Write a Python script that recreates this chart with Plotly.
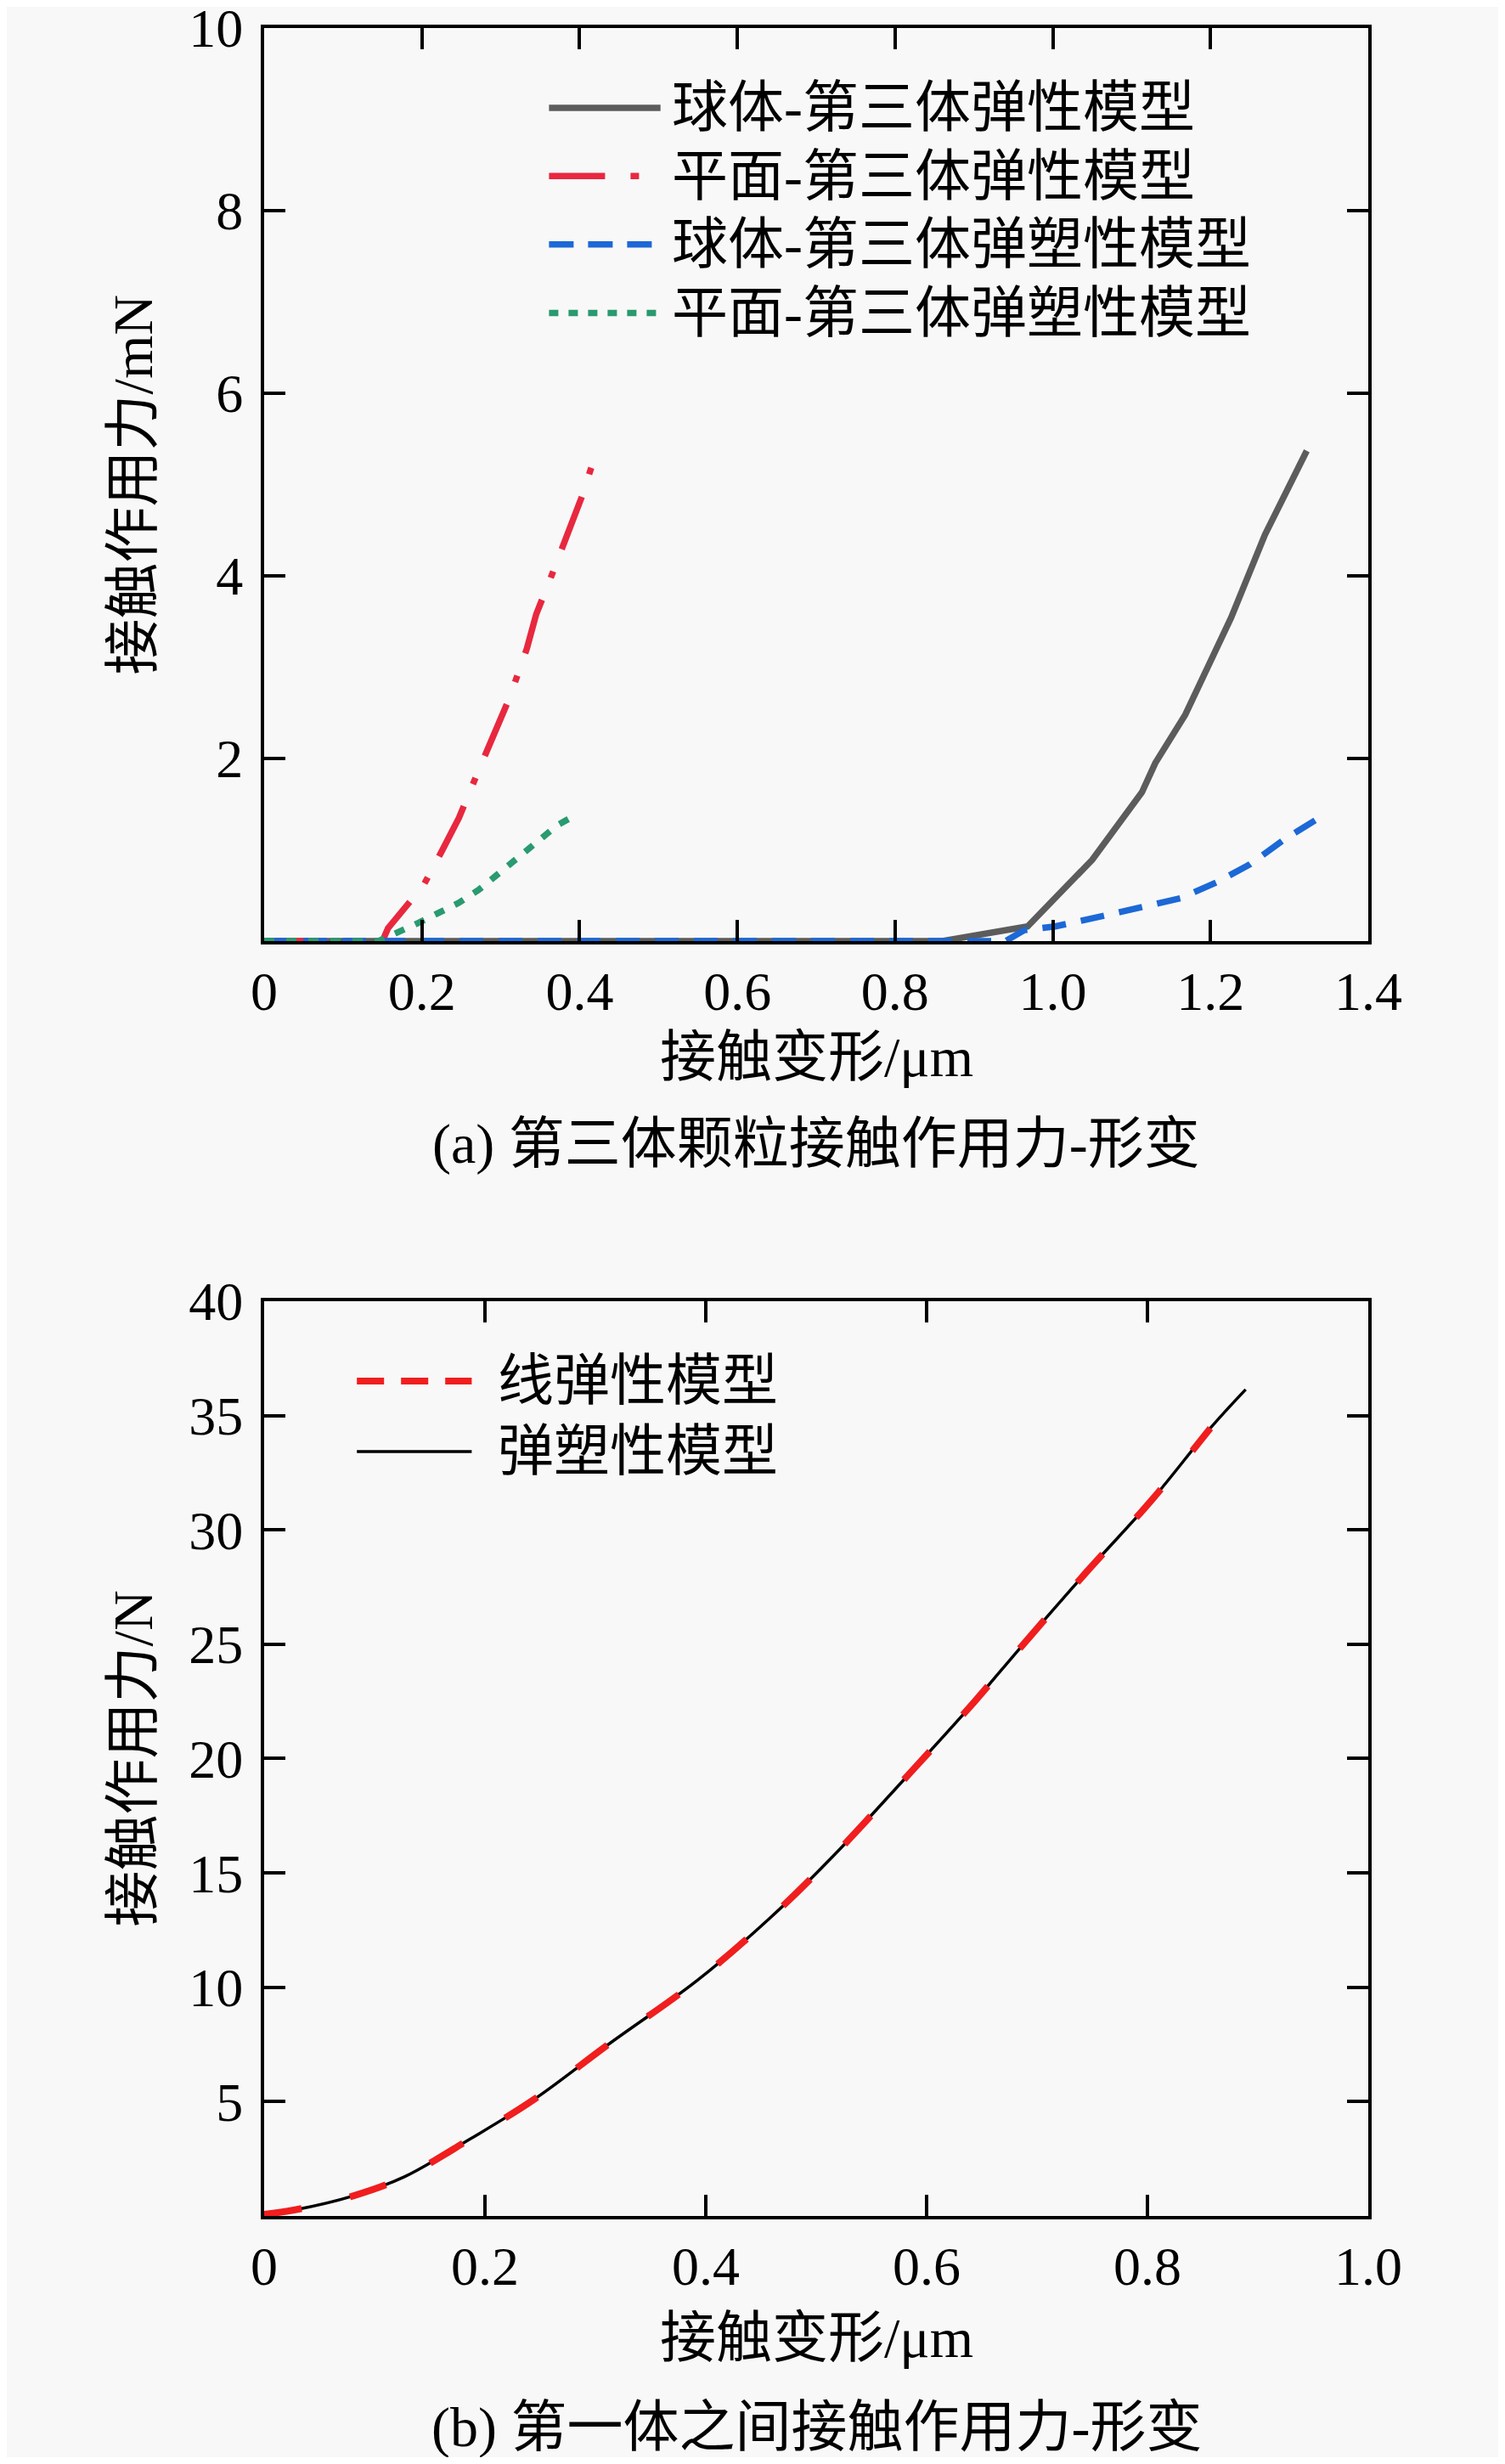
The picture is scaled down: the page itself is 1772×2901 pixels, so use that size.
import plotly.graph_objects as go

# (a) 第三体颗粒 — 接触作用力/mN 对 接触变形/μm
sphere_el_x = [0, 0.86, 0.968, 1.003, 1.050, 1.113, 1.130, 1.168, 1.226, 1.269, 1.322]
sphere_el_y = [0, 0, 0.16, 0.48, 0.89, 1.63, 1.95, 2.48, 3.54, 4.45, 5.37]

plane_el_x = [0, 0.150, 0.157, 0.202, 0.225, 0.247, 0.272, 0.2915, 0.311, 0.333, 0.345, 0.363, 0.385, 0.403, 0.4225]
plane_el_y = [0, 0, 0.14, 0.61, 0.98, 1.35, 1.87, 2.27, 2.66, 3.20, 3.58, 3.97, 4.49, 4.87, 5.39]

sphere_ep_x = [0, 0.940, 0.964, 1.003, 1.066, 1.117, 1.162, 1.207, 1.250, 1.293, 1.334]
sphere_ep_y = [0, 0, 0.12, 0.16, 0.28, 0.38, 0.47, 0.64, 0.84, 1.11, 1.33]

plane_ep_x = [0, 0.145, 0.196, 0.247, 0.272, 0.2915, 0.313, 0.331, 0.3525, 0.372, 0.397]
plane_ep_y = [0, 0, 0.20, 0.42, 0.56, 0.70, 0.86, 0.98, 1.13, 1.27, 1.39]

# (b) 第一体之间 — 接触作用力/N
body_x = [0, 0.027, 0.080, 0.127, 0.186, 0.2446, 0.312, 0.392, 0.4566, 0.515, 0.580, 0.639, 0.686, 0.745, 0.804, 0.857, 0.889]
plastic_y = [0.07, 0.26, 0.87, 1.71, 3.35, 5.10, 7.51, 10.29, 12.96, 15.72, 19.11, 22.25, 24.91, 28.17, 31.31, 34.45, 36.14]
linear_x = body_x[:16]
linear_y = plastic_y[:16]

names_a = ['球体-第三体弹性模型', '平面-第三体弹性模型', '球体-第三体弹塑性模型', '平面-第三体弹塑性模型']
names_b = ['线弹性模型', '弹塑性模型']

xticks_a = [0, 0.2, 0.4, 0.6, 0.8, 1.0, 1.2, 1.4]
xtext_a = ['0', '0.2', '0.4', '0.6', '0.8', '1.0', '1.2', '1.4']
yticks_a = [2, 4, 6, 8, 10]
xticks_b = [0, 0.2, 0.4, 0.6, 0.8, 1.0]
xtext_b = ['0', '0.2', '0.4', '0.6', '0.8', '1.0']
yticks_b = [5, 10, 15, 20, 25, 30, 35, 40]

FONT = 'Liberation Serif, Noto Sans CJK SC'
GRAY, RED, BLUE, GREEN = '#5c5c5c', '#e8283f', '#1c68d6', '#2a9a70'
BRED = '#f01e1e'

fig = go.Figure()

# 上图
styles_a = [
    (sphere_el_x, sphere_el_y, GRAY, 'solid', 'solid'),
    (plane_el_x, plane_el_y, RED, '66px,28px,8px,28px', '66px,30px,10px,30px'),
    (sphere_ep_x, sphere_ep_y, BLUE, '28px,18px', '29px,17px'),
    (plane_ep_x, plane_ep_y, GREEN, '12px,14px', '11px,12px'),
]
for (xs, ys, col, dash, _), nm in zip(styles_a, names_a):
    fig.add_trace(go.Scatter(x=xs, y=ys, mode='lines', name=nm, showlegend=False,
                             line=dict(color=col, width=7.5, dash=dash), xaxis='x', yaxis='y'))

# 下图
fig.add_trace(go.Scatter(x=body_x, y=plastic_y, mode='lines', name=names_b[1], showlegend=False,
                         line=dict(color='black', width=3.5, shape='spline'), xaxis='x2', yaxis='y2'))
fig.add_trace(go.Scatter(x=linear_x, y=linear_y, mode='lines', name=names_b[0], showlegend=False,
                         line=dict(color=BRED, width=8, dash='45px,58px', shape='spline'),
                         xaxis='x2', yaxis='y2'))

axis_common = dict(showline=True, linecolor='black', linewidth=4, mirror='ticks',
                   ticks='inside', ticklen=25, tickwidth=4, tickcolor='black',
                   showgrid=False, zeroline=False, automargin=False,
                   ticklabeloverflow='allow',
                   tickfont=dict(family=FONT, size=64, color='black'))

# 页面 body 有 8px 边距，尺寸相应缩小
fig.update_layout(
    width=1756, height=2885,
    margin=dict(l=303, r=153, t=25, b=284),
    paper_bgcolor='#f8f8f8', plot_bgcolor='#f8f8f8',
    showlegend=False,
    font=dict(family=FONT, color='black'),
    xaxis=dict(domain=[0, 1], range=[0, 1.4], tickvals=xticks_a, ticktext=xtext_a,
               anchor='y', ticklabelstandoff=0, **axis_common),
    yaxis=dict(domain=[0.5827, 1], range=[0, 10], tickvals=yticks_a,
               anchor='x', ticklabelstandoff=8, **axis_common),
    xaxis2=dict(domain=[0, 1], range=[0, 1.0], tickvals=xticks_b, ticktext=xtext_b,
                anchor='y2', ticklabelstandoff=0, **axis_common),
    yaxis2=dict(domain=[0, 0.4181], range=[0, 40], tickvals=yticks_b,
                anchor='x2', ticklabelstandoff=8, **axis_common),
)

# 图例（手工绘制）
rows_a = [0.9126, 0.838, 0.763, 0.688]
for (_, _, col, _, ldash), nm, ry in zip(styles_a, names_a, rows_a):
    fig.add_shape(type='line', xref='x domain', yref='y domain', x0=0.258, x1=0.359, y0=ry, y1=ry,
                  line=dict(color=col, width=7.5, dash=ldash))
    fig.add_annotation(text=nm, xref='x domain', yref='y domain', x=0.368, y=ry,
                       xanchor='left', yanchor='middle', showarrow=False,
                       font=dict(family=FONT, size=66, color='black'))

rows_b = [0.9127, 0.8357]
fig.add_shape(type='line', xref='x2 domain', yref='y2 domain', x0=0.084, x1=0.188, y0=rows_b[0], y1=rows_b[0],
              line=dict(color=BRED, width=8, dash='32px,20px'))
fig.add_shape(type='line', xref='x2 domain', yref='y2 domain', x0=0.084, x1=0.188, y0=rows_b[1], y1=rows_b[1],
              line=dict(color='black', width=3.5))
for nm, ry in zip(names_b, rows_b):
    fig.add_annotation(text=nm, xref='x2 domain', yref='y2 domain', x=0.210, y=ry,
                       xanchor='left', yanchor='middle', showarrow=False,
                       font=dict(family=FONT, size=66, color='black'))

# 轴标题与图注
texts = [
    ('接触变形/μm', 'x domain', 'y domain', 0.5, -0.1274, 0),
    ('(a) 第三体颗粒接触作用力-形变', 'x domain', 'y domain', 0.5, -0.2223, 0),
    ('接触作用力/mN', 'x domain', 'y domain', -0.1185, 0.5, -90),
    ('接触变形/μm', 'x2 domain', 'y2 domain', 0.5, -0.1337, 0),
    ('(b) 第一体之间接触作用力-形变', 'x2 domain', 'y2 domain', 0.5, -0.2312, 0),
    ('接触作用力/N', 'x2 domain', 'y2 domain', -0.1185, 0.5, -90),
]
for txt, xr, yr, xx, yy, ang in texts:
    fig.add_annotation(text=txt, xref=xr, yref=yr, x=xx, y=yy, textangle=ang,
                       xanchor='center', yanchor='middle', showarrow=False,
                       font=dict(family=FONT, size=66, color='black'))

fig.write_html('out.html')
